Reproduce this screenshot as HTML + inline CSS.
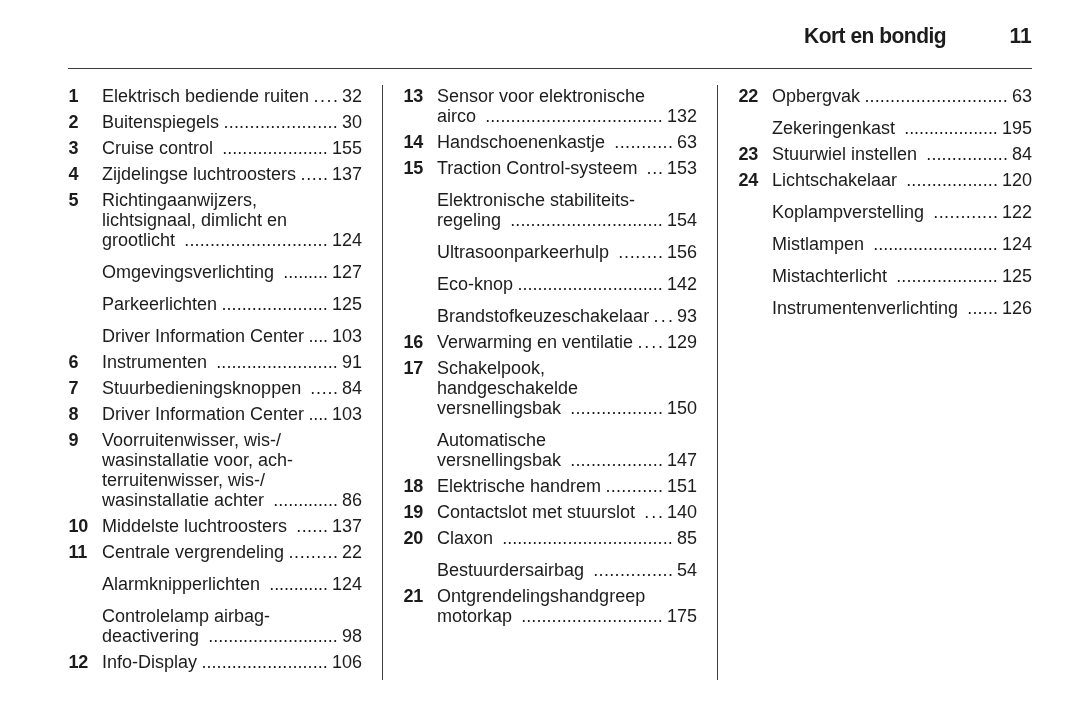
<!DOCTYPE html>
<html lang="nl"><head><meta charset="utf-8"><title>Kort en bondig</title>
<style>
html,body{margin:0;padding:0;background:#fff;}
body{width:1078px;height:720px;position:relative;overflow:hidden;font-family:"Liberation Sans",Arial,sans-serif;color:#1c1c1c;}
.hd{position:absolute;top:23px;font-weight:bold;font-size:22.5px;line-height:26px;white-space:nowrap;letter-spacing:-0.55px;transform:scaleX(0.933);transform-origin:0 0;}
.rule{position:absolute;left:68px;top:68px;width:964px;height:1px;background:#3c3c3c;}
.vr{position:absolute;top:85px;width:1px;height:595px;background:#3c3c3c;}
.col{position:absolute;top:0;width:294px;}
.ln{position:absolute;left:0;width:294px;height:20px;line-height:20px;font-size:18px;white-space:nowrap;}
.n{position:absolute;left:0.5px;top:0;font-weight:bold;letter-spacing:-0.3px;}
.t{position:absolute;left:34px;top:0;}
.p{position:absolute;right:0;top:0;}
.d{position:absolute;top:0;}
</style></head><body>
<div class="hd" style="left:804px">Kort en bondig</div>
<div class="hd" style="right:46px;letter-spacing:0;transform-origin:100% 0">11</div>
<div class="rule"></div>
<div class="vr" style="left:382px"></div>
<div class="vr" style="left:717px"></div>

<div class="col" style="left:68px">
<div class="ln" style="top:86px"><span class="n">1</span><span class="t">Elektrisch bediende ruiten</span><span class="d" style="left:245.53px;letter-spacing:1.527px">....</span><span class="p">32</span></div>
<div class="ln" style="top:112px"><span class="n">2</span><span class="t">Buitenspiegels</span><span class="d" style="left:155.49px;letter-spacing:0.206px">......................</span><span class="p">30</span></div>
<div class="ln" style="top:138px"><span class="n">3</span><span class="t">Cruise control</span><span class="d" style="left:154.25px;letter-spacing:0.029px">.....................</span><span class="p">155</span></div>
<div class="ln" style="top:164px"><span class="n">4</span><span class="t">Zijdelingse luchtroosters</span><span class="d" style="left:232.49px;letter-spacing:0.645px">.....</span><span class="p">137</span></div>
<div class="ln" style="top:190px"><span class="n">5</span><span class="t">Richtingaanwijzers,</span></div>
<div class="ln" style="top:210px"><span class="t">lichtsignaal, dimlicht en</span></div>
<div class="ln" style="top:230px"><span class="t">grootlicht</span><span class="d" style="left:116.25px;letter-spacing:0.128px">............................</span><span class="p">124</span></div>
<div class="ln" style="top:262px"><span class="t">Omgevingsverlichting</span><span class="d" style="left:215.28px;letter-spacing:-0.033px">.........</span><span class="p">127</span></div>
<div class="ln" style="top:294px"><span class="t">Parkeerlichten</span><span class="d" style="left:153.46px;letter-spacing:0.068px">.....................</span><span class="p">125</span></div>
<div class="ln" style="top:326px"><span class="t">Driver Information Center</span><span class="d" style="left:240.48px;letter-spacing:-0.129px">....</span><span class="p">103</span></div>
<div class="ln" style="top:352px"><span class="n">6</span><span class="t">Instrumenten</span><span class="d" style="left:148.26px;letter-spacing:0.067px">........................</span><span class="p">91</span></div>
<div class="ln" style="top:378px"><span class="n">7</span><span class="t">Stuurbedieningsknoppen</span><span class="d" style="left:242.37px;letter-spacing:0.680px">.....</span><span class="p">84</span></div>
<div class="ln" style="top:404px"><span class="n">8</span><span class="t">Driver Information Center</span><span class="d" style="left:240.48px;letter-spacing:-0.129px">....</span><span class="p">103</span></div>
<div class="ln" style="top:430px"><span class="n">9</span><span class="t">Voorruitenwisser, wis-/</span></div>
<div class="ln" style="top:450px"><span class="t">wasinstallatie voor, ach-</span></div>
<div class="ln" style="top:470px"><span class="t">terruitenwisser, wis-/</span></div>
<div class="ln" style="top:490px"><span class="t">wasinstallatie achter</span><span class="d" style="left:205.29px;letter-spacing:-0.027px">.............</span><span class="p">86</span></div>
<div class="ln" style="top:516px"><span class="n">10</span><span class="t">Middelste luchtroosters</span><span class="d" style="left:228.29px;letter-spacing:0.353px">......</span><span class="p">137</span></div>
<div class="ln" style="top:542px"><span class="n">11</span><span class="t">Centrale vergrendeling</span><span class="d" style="left:220.51px;letter-spacing:0.565px">.........</span><span class="p">22</span></div>
<div class="ln" style="top:574px"><span class="t">Alarmknipperlichten</span><span class="d" style="left:201.28px;letter-spacing:-0.119px">............</span><span class="p">124</span></div>
<div class="ln" style="top:606px"><span class="t">Controlelamp airbag-</span></div>
<div class="ln" style="top:626px"><span class="t">deactivering</span><span class="d" style="left:140.26px;letter-spacing:-0.020px">..........................</span><span class="p">98</span></div>
<div class="ln" style="top:652px"><span class="n">12</span><span class="t">Info-Display</span><span class="d" style="left:133.45px;letter-spacing:0.055px">.........................</span><span class="p">106</span></div>
</div>
<div class="col" style="left:403px">
<div class="ln" style="top:86px"><span class="n">13</span><span class="t">Sensor voor elektronische</span></div>
<div class="ln" style="top:106px"><span class="t">airco</span><span class="d" style="left:82.22px;letter-spacing:0.070px">...................................</span><span class="p">132</span></div>
<div class="ln" style="top:132px"><span class="n">14</span><span class="t">Handschoenenkastje</span><span class="d" style="left:211.32px;letter-spacing:0.367px">...........</span><span class="p">63</span></div>
<div class="ln" style="top:158px"><span class="n">15</span><span class="t">Traction Control-systeem</span><span class="d" style="left:243.59px;letter-spacing:0.758px">...</span><span class="p">153</span></div>
<div class="ln" style="top:190px"><span class="t">Elektronische stabiliteits-</span></div>
<div class="ln" style="top:210px"><span class="t">regeling</span><span class="d" style="left:107.25px;letter-spacing:0.084px">..............................</span><span class="p">154</span></div>
<div class="ln" style="top:242px"><span class="t">Ultrasoonparkeerhulp</span><span class="d" style="left:215.31px;letter-spacing:0.674px">........</span><span class="p">156</span></div>
<div class="ln" style="top:274px"><span class="t">Eco-knop</span><span class="d" style="left:114.45px;letter-spacing:0.009px">.............................</span><span class="p">142</span></div>
<div class="ln" style="top:306px"><span class="t">Brandstofkeuzeschakelaar</span><span class="d" style="left:250.53px;letter-spacing:2.298px">...</span><span class="p">93</span></div>
<div class="ln" style="top:332px"><span class="n">16</span><span class="t">Verwarming en ventilatie</span><span class="d" style="left:234.51px;letter-spacing:1.860px">....</span><span class="p">129</span></div>
<div class="ln" style="top:358px"><span class="n">17</span><span class="t">Schakelpook,</span></div>
<div class="ln" style="top:378px"><span class="t">handgeschakelde</span></div>
<div class="ln" style="top:398px"><span class="t">versnellingsbak</span><span class="d" style="left:167.28px;letter-spacing:0.153px">..................</span><span class="p">150</span></div>
<div class="ln" style="top:430px"><span class="t">Automatische</span></div>
<div class="ln" style="top:450px"><span class="t">versnellingsbak</span><span class="d" style="left:167.28px;letter-spacing:0.153px">..................</span><span class="p">147</span></div>
<div class="ln" style="top:476px"><span class="n">18</span><span class="t">Elektrische handrem</span><span class="d" style="left:202.48px;letter-spacing:0.250px">...........</span><span class="p">151</span></div>
<div class="ln" style="top:502px"><span class="n">19</span><span class="t">Contactslot met stuurslot</span><span class="d" style="left:241.29px;letter-spacing:1.906px">...</span><span class="p">140</span></div>
<div class="ln" style="top:528px"><span class="n">20</span><span class="t">Claxon</span><span class="d" style="left:99.23px;letter-spacing:0.012px">..................................</span><span class="p">85</span></div>
<div class="ln" style="top:560px"><span class="t">Bestuurdersairbag</span><span class="d" style="left:190.29px;letter-spacing:0.331px">...............</span><span class="p">54</span></div>
<div class="ln" style="top:586px"><span class="n">21</span><span class="t">Ontgrendelingshandgreep</span></div>
<div class="ln" style="top:606px"><span class="t">motorkap</span><span class="d" style="left:118.25px;letter-spacing:0.054px">............................</span><span class="p">175</span></div>
</div>
<div class="col" style="left:738px">
<div class="ln" style="top:86px"><span class="n">22</span><span class="t">Opbergvak</span><span class="d" style="left:126.46px;letter-spacing:0.121px">............................</span><span class="p">63</span></div>
<div class="ln" style="top:118px"><span class="t">Zekeringenkast</span><span class="d" style="left:166.28px;letter-spacing:-0.079px">...................</span><span class="p">195</span></div>
<div class="ln" style="top:144px"><span class="n">23</span><span class="t">Stuurwiel instellen</span><span class="d" style="left:188.28px;letter-spacing:0.109px">................</span><span class="p">84</span></div>
<div class="ln" style="top:170px"><span class="n">24</span><span class="t">Lichtschakelaar</span><span class="d" style="left:168.28px;letter-spacing:0.094px">..................</span><span class="p">120</span></div>
<div class="ln" style="top:202px"><span class="t">Koplampverstelling</span><span class="d" style="left:195.28px;letter-spacing:0.426px">............</span><span class="p">122</span></div>
<div class="ln" style="top:234px"><span class="t">Mistlampen</span><span class="d" style="left:135.23px;letter-spacing:-0.020px">.........................</span><span class="p">124</span></div>
<div class="ln" style="top:266px"><span class="t">Mistachterlicht</span><span class="d" style="left:158.23px;letter-spacing:0.085px">....................</span><span class="p">125</span></div>
<div class="ln" style="top:298px"><span class="t">Instrumentenverlichting</span><span class="d" style="left:229.29px;letter-spacing:0.153px">......</span><span class="p">126</span></div>
</div>
</body></html>
